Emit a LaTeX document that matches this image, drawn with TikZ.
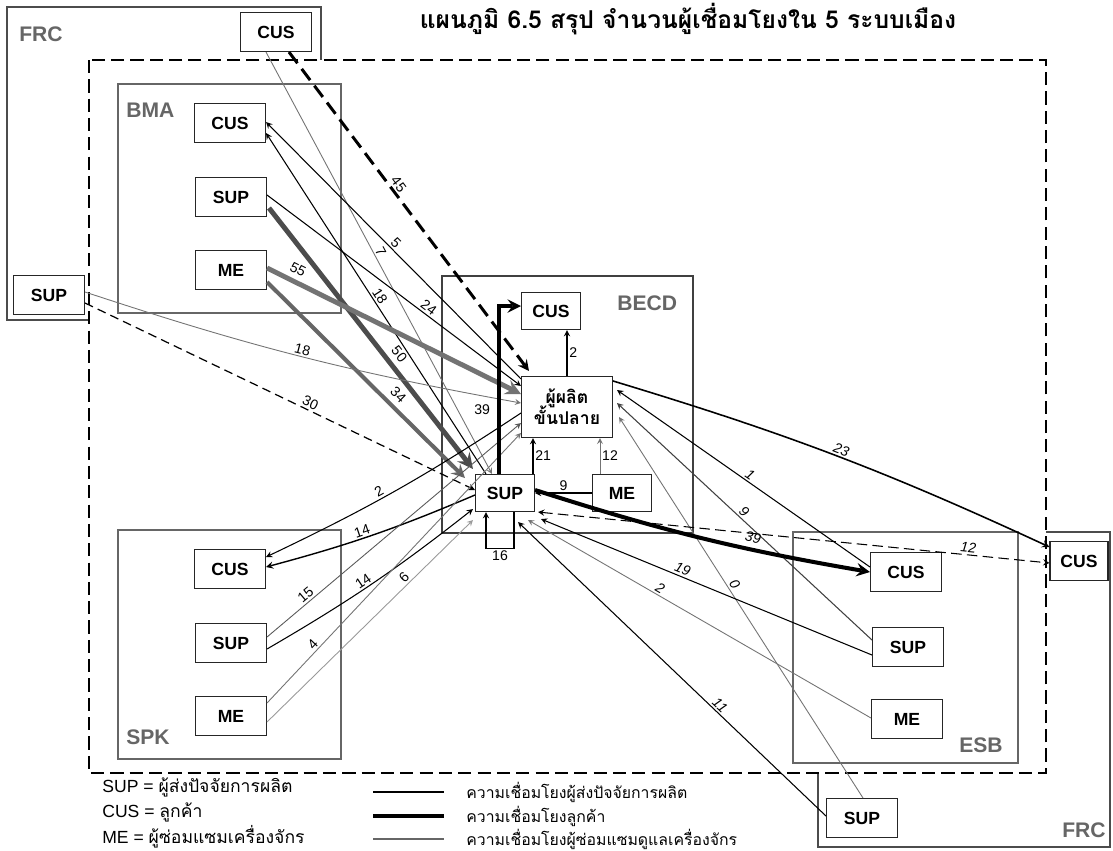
\documentclass[tikz,border=0pt]{standalone}
\usepackage{fontspec}
\setmainfont{Liberation Sans}
\newfontfamily\thaifont[Script=Thai]{Loma}
\usetikzlibrary{calc}

\tikzset{
  box/.style={draw=black!85, fill=white, line width=0.6pt, font=\bfseries,
    minimum width=1.42cm, minimum height=0.78cm, inner sep=0pt},
  sbox/.style={box, minimum width=1.18cm, minimum height=0.74cm},
  region/.style={draw=black!60, line width=0.6pt},
  rlabel/.style={text=black!60, font=\bfseries\large, anchor=west, inner sep=0pt},
  lbl/.style={font=\footnotesize, inner sep=1pt},
  ilbl/.style={lbl, font=\footnotesize\itshape},
  lnk/.style={-stealth, line width=0.6pt},
  melnk/.style={-stealth, line width=0.5pt, black!55},
}

\begin{document}
\begin{tikzpicture}[x=0.02cm, y=-0.02cm]
    \fill[white] (0,0) rectangle (1113,850);
    \useasboundingbox (0,0) rectangle (1113,850);

    % frames of the outside region and the study area
    \draw[black!70, line width=0.8pt] (7,7) rectangle (321,320);
    \draw[black!70, line width=0.8pt] (818,532) rectangle (1110,847);
    \draw[fill=white, line width=1.1pt, dash pattern=on 7.5pt off 3.5pt] (89,60) rectangle (1046,773);
    \draw[region] (118,84) rectangle (341,313);
    \draw[region] (118,530) rectangle (341,759);
    \draw[region] (793,532) rectangle (1018,763);
    \draw[black!75, line width=1.3pt] (442,276) rectangle (693,533);

    \node[font=\thaifont\bfseries\fontsize{14}{16}\selectfont] (title) at (688,19) {แผนภูมิ 6.5 สรุป จำนวนผู้เชื่อมโยงใน 5 ระบบเมือง};

    \node[rlabel] (frcLbl) at (19,34) {FRC};
    \node[rlabel] (bmaLbl) at (126,110) {BMA};
    \node[rlabel] (becdLbl) at (617,303) {BECD};
    \node[rlabel] (spkLbl) at (126,737) {SPK};
    \node[rlabel] (esbLbl) at (959,745) {ESB};
    \node[rlabel] (frcLblb) at (1062,830) {FRC};

    % actors
    \node[box] (frcCUS) at (276,32) {CUS};
    \node[box] (frcSUPl) at (49,295) {SUP};
    \node[box, minimum width=1.16cm] (frcCUSr) at (1079,561) {CUS};
    \node[box] (frcSUPb) at (862,818) {SUP};

    \node[box] (bmaCUS) at (230,123) {CUS};
    \node[box] (bmaSUP) at (231,197) {SUP};
    \node[box] (bmaME) at (231,270) {ME};

    \node[box] (spkCUS) at (230,569) {CUS};
    \node[box] (spkSUP) at (231,643) {SUP};
    \node[box] (spkME) at (231,716) {ME};

    \node[box] (esbCUS) at (906,572) {CUS};
    \node[box] (esbSUP) at (908,647) {SUP};
    \node[box] (esbME) at (907,719) {ME};

    \node[sbox] (becdCUS) at (551,311) {CUS};
    \node[box, minimum width=1.82cm, minimum height=1.22cm, align=center,
      font=\thaifont\bfseries] (prod) at (567,407) {ผู้ผลิต\\[-2pt]ขั้นปลาย};
    \node[sbox] (becdSUP) at (505,493) {SUP};
    \node[sbox] (becdME) at (622,493) {ME};

    % links from the north-west
    \draw[-stealth, line width=1.7pt, dash pattern=on 8pt off 4pt] ($(frcCUS.south)+(13,0)$) -- node[lbl, sloped, above, pos=.43] {45} ($(prod.north west)+(8,-5)$);
    \draw[melnk] ($(frcCUS.south)+(-10,0)$) -- node[lbl, black, sloped, above, pos=.48] {7} ($(becdSUP.north)+(-13,0)$);
    \draw[lnk] ($(prod.north west)+(0,3)$) -- node[lbl, sloped, above, pos=.51] {5} ($(bmaCUS.east)+(0,-1)$);
    \draw[lnk] ($(becdSUP.north)+(-19,0)$) -- node[lbl, sloped, above, pos=.51] {18} ($(bmaCUS.east)+(0,10)$);
    \draw[lnk] ($(bmaSUP.east)+(0,-2)$) -- node[lbl, sloped, above, pos=.62] {24} ($(prod.west)+(0,-21)$);
    \draw[-stealth, black!70, line width=2.8pt] ($(bmaSUP.east)+(2,11)$) -- node[lbl, black, sloped, above=2pt, pos=.59] {50} ($(becdSUP.north west)+(-2,-5)$);
    \draw[-stealth, black!55, line width=2.8pt] ($(bmaME.east)+(0,-2)$) -- node[lbl, black, sloped, above=2pt, pos=.1] {55} ($(prod.west)+(0,-13)$);
    \draw[-stealth, black!60, line width=2.3pt] ($(bmaME.east)+(0,12)$) -- node[lbl, black, sloped, above=2pt, pos=.62] {34} ($(becdSUP.west)+(-10,-15)$);
    \draw[melnk] ($(frcSUPl.east)+(0,-3)$) to[bend right=4] node[lbl, black, sloped, above, pos=.5] {18} ($(prod.west)+(0,-4)$);
    \draw[-stealth, line width=0.7pt, dash pattern=on 5pt off 3pt] ($(frcSUPl.east)+(0,8)$) -- node[lbl, sloped, above, pos=.57] {30} ($(becdSUP.west)+(0,-3)$);

    % links from the south-west
    \draw[lnk] ($(prod.west)+(0,6)$) to[bend left=4] node[lbl, sloped, above, pos=.56] {2} ($(spkCUS.east)+(0,-12)$);
    \draw[lnk, line width=0.8pt] ($(becdSUP.west)+(0,2)$) to[bend left=4] node[lbl, sloped, above, pos=.54] {14} ($(spkCUS.east)+(0,-2)$);
    \draw[melnk, black!65] ($(spkSUP.east)+(0,-6)$) -- node[lbl, black, sloped, above, pos=.17] {15} ($(prod.west)+(0,16)$);
    \draw[lnk] ($(spkSUP.east)+(0,6)$) to[bend right=4] node[lbl, sloped, above, pos=.47] {14} ($(becdSUP.south west)+(-2,-3)$);
    \draw[melnk, black!40] ($(spkME.east)+(0,6)$) -- node[lbl, black, sloped, above, pos=.69] {6} ($(becdSUP.south west)+(-2,8)$);
    \draw[melnk] ($(spkME.east)+(0,-13)$) -- node[lbl, black, sloped, above, pos=.2] {4} ($(prod.west)+(0,26)$);

    % links to the east and south-east
    \draw[lnk, line width=0.9pt] ($(prod.north east)+(0,5)$) to[bend left=4] node[ilbl, sloped, above, pos=.51] {23} ($(frcCUSr.west)+(0,-14)$);
    \draw[lnk] ($(esbCUS.west)+(0,-5)$) -- node[ilbl, sloped, above, pos=.49] {1} ($(prod.east)+(4,-17)$);
    \draw[lnk, black!75] ($(esbSUP.west)+(0,-7)$) -- node[ilbl, black, sloped, above, pos=.52] {9} ($(prod.east)+(4,-4)$);
    \draw[melnk] ($(frcSUPb.north)+(1,0)$) -- node[ilbl, black, sloped, above, pos=.55] {0} ($(prod.east)+(6,10)$);
    \draw[lnk] ($(esbSUP.west)+(0,8)$) -- node[ilbl, sloped, above, pos=.58] {19} ($(becdSUP.south east)+(6,7)$);
    \draw[melnk] ($(esbME.west)+(0,-1)$) -- node[ilbl, black, sloped, above, pos=.625] {2} ($(becdSUP.south)+(23,8)$);
    \draw[lnk] ($(frcSUPb.west)+(0,-2)$) -- node[ilbl, sloped, above, pos=.36] {11} ($(becdSUP.south)+(13,10)$);
    \draw[-stealth, line width=2.3pt] ($(becdSUP.east)+(0,-3)$) to[bend right=4] node[ilbl, sloped, above=2pt, pos=.66] {39} (esbCUS.west);
    \draw[stealth-stealth, line width=0.6pt, dash pattern=on 6pt off 3pt] ($(becdSUP.south east)+(3,0)$) -- node[ilbl, sloped, above, pos=.84] {12} ($(frcCUSr.west)+(0,2)$);

    % links inside BECD
    \draw[-stealth, line width=2.3pt] ($(becdSUP.north)+(-6,0)$) |- node[lbl, left=3pt, pos=.19] {39} ($(becdCUS.west)+(0,-5)$);
    \draw[lnk] ($(becdSUP.north)+(28,0)$) -- node[lbl, right] {21} ($(prod.south)+(-34,0)$);
    \draw[melnk] ($(becdME.north)+(-22,0)$) -- node[lbl, black, right] {12} ($(prod.south)+(33,0)$);
    \draw[lnk] (becdME.west) -- node[lbl, above] {9} (becdSUP.east);
    \draw[lnk] (prod.north) -- node[lbl, right] {2} ($(becdCUS.south)+(16,0)$);
    \draw[lnk] ($(becdSUP.south)+(9,0)$) -- ++(0,36) -- node[lbl, below] {16} ++(-28,0) -- ++(0,-36);

    % legend
    \node[anchor=west, inner sep=0pt] (legSUP) at (102,787) {SUP = {\thaifont ผู้ส่งปัจจัยการผลิต}};
    \node[anchor=west, inner sep=0pt] (legCUS) at (102,812) {CUS = {\thaifont ลูกค้า}};
    \node[anchor=west, inner sep=0pt] (legME) at (102,837) {ME = {\thaifont ผู้ซ่อมแซมเครื่องจักร}};
    \draw[line width=1pt] (373,792) -- (444,792);
    \draw[line width=2pt] (373,816) -- (444,816);
    \draw[black!60, line width=0.6pt] (373,839) -- (444,839);
    \node[anchor=west, inner sep=0pt, font=\thaifont\small] (legA) at (466,792) {ความเชื่อมโยงผู้ส่งปัจจัยการผลิต};
    \node[anchor=west, inner sep=0pt, font=\thaifont\small] (legB) at (466,816) {ความเชื่อมโยงลูกค้า};
    \node[anchor=west, inner sep=0pt, font=\thaifont\small] (legC) at (466,839) {ความเชื่อมโยงผู้ซ่อมแซมดูแลเครื่องจักร};
\end{tikzpicture}
\end{document}
